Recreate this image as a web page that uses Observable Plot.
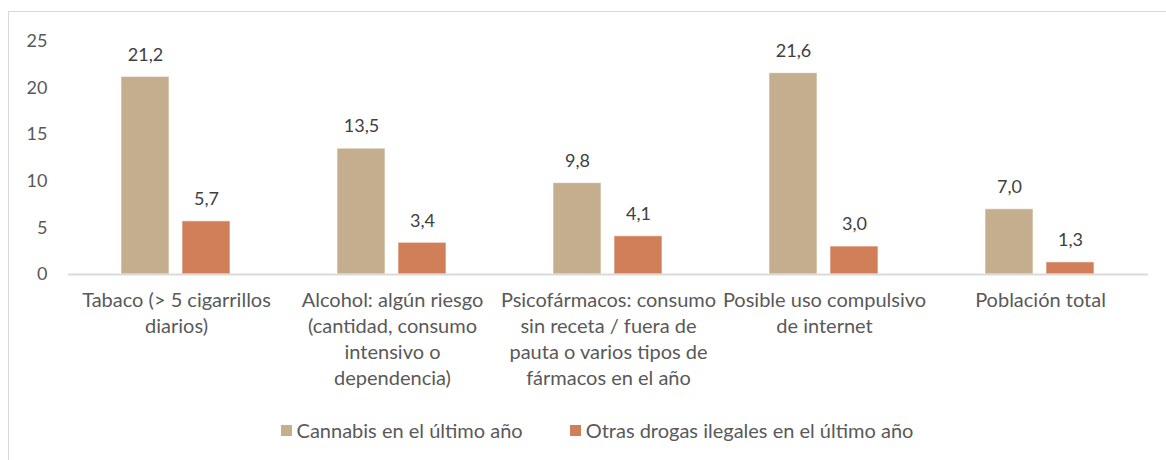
<!DOCTYPE html>
<html>
<head>
<meta charset="utf-8">
<script src="https://cdn.jsdelivr.net/npm/d3@7"></script>
<script src="https://cdn.jsdelivr.net/npm/@observablehq/plot@0.6"></script>
<style>
  html, body { margin: 0; padding: 0; background: #fff; }
  body { width: 1166px; height: 460px; position: relative; overflow: hidden; font-family: Lato, "Open Sans", sans-serif; }
  #frame { position: absolute; left: 8px; top: 11px; width: 1200px; height: 500px; border: 1px solid #d9d9d9; box-sizing: border-box; }
  #chart { position: absolute; left: 0; top: 0; }
  #legend { position: absolute; left: 0; top: 418px; width: 1194px; display: flex; justify-content: center; gap: 47px; font-size: 20px; line-height: 24px; color: #595959; }
  .item { display: flex; align-items: center; gap: 5px; white-space: nowrap; }
  .sw { width: 11px; height: 11px; display: inline-block; }
</style>
</head>
<body>
<div id="frame"></div>
<div id="chart"></div>
<div id="legend"></div>
<script>
const categories = [
  "Tabaco (> 5 cigarrillos diarios)",
  "Alcohol: algún riesgo (cantidad, consumo intensivo o dependencia)",
  "Psicofármacos: consumo sin receta / fuera de pauta o varios tipos de fármacos en el año",
  "Posible uso compulsivo de internet",
  "Población total"
];
const tickLabels = [
  "Tabaco (> 5 cigarrillos\ndiarios)",
  "Alcohol: algún riesgo\n(cantidad, consumo\nintensivo o\ndependencia)",
  "Psicofármacos: consumo\nsin receta / fuera de\npauta o varios tipos de\nfármacos en el año",
  "Posible uso compulsivo\nde internet",
  "Población total"
];
const series = ["Cannabis en el último año", "Otras drogas ilegales en el último año"];
const cannabis = [21.2, 13.5, 9.8, 21.6, 7.0];
const otras = [5.7, 3.4, 4.1, 3.0, 1.3];
const yTicks = [0, 5, 10, 15, 20, 25];
const colors = ["#c4ae8e", "#d07f59"];

const data = [];
categories.forEach((c, i) => {
  data.push({category: c, series: series[0], value: cannabis[i]});
  data.push({category: c, series: series[1], value: otras[i]});
});
const fmt = v => v.toFixed(1).replace(".", ",");
const labelOf = new Map(categories.map((c, i) => [c, tickLabels[i]]));

const chart = Plot.plot({
  width: 1166,
  height: 405,
  marginLeft: 67,
  marginRight: 17,
  marginTop: 41,
  marginBottom: 131,
  style: {fontFamily: "Lato, 'Open Sans', sans-serif", fontSize: "18px", color: "#595959", background: "transparent"},
  fx: {domain: categories, padding: 0, label: null},
  x: {domain: series, paddingInner: 0.21, paddingOuter: 0.85, axis: null},
  y: {domain: [0, 25], ticks: yTicks, label: null},
  color: {domain: series, range: colors},
  marks: [
    Plot.axisY({ticks: yTicks, tickSize: 0, tickPadding: 21, label: null, fill: "#595959", fontSize: 18}),
    Plot.axisFx({anchor: "bottom", tickSize: 0, tickPadding: 14.5, label: null, tickFormat: d => labelOf.get(d), lineHeight: 1.3, fill: "#595959", fontSize: 20}),
    Plot.barY(data, {fx: "category", x: "series", y: "value", fill: "series", stroke: "#ffffff", strokeOpacity: 0.6, strokeWidth: 1}),
    Plot.ruleY([0], {stroke: "#d9d9d9", strokeWidth: 2}),
    Plot.text(data, {fx: "category", x: "series", y: "value", text: d => fmt(d.value), dy: -22, fill: "#404040", fontSize: 18})
  ]
});
document.getElementById("chart").appendChild(chart);

const legend = document.getElementById("legend");
series.forEach((s, i) => {
  const item = document.createElement("div");
  item.className = "item";
  const sw = document.createElement("span");
  sw.className = "sw";
  sw.style.background = colors[i];
  const t = document.createElement("span");
  t.textContent = s;
  item.appendChild(sw);
  item.appendChild(t);
  legend.appendChild(item);
});
</script>
</body>
</html>
